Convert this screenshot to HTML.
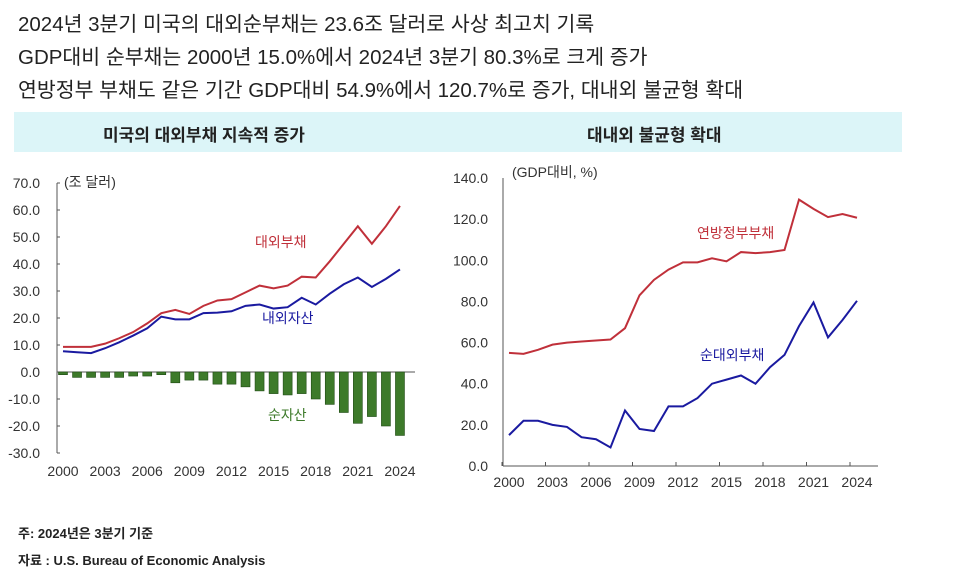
<!DOCTYPE html>
<html><head><meta charset="utf-8"><style>
body{margin:0;width:958px;height:582px;background:#fff;overflow:hidden;font-family:"Liberation Sans","Noto Sans CJK KR",sans-serif;position:relative}
.h{position:absolute;left:18px;font-size:20.5px;color:#222;white-space:nowrap;letter-spacing:0px}
.band{position:absolute;left:14px;top:112px;width:888px;height:40px;background:#dcf5f8}
.t{position:absolute;top:121px;font-size:17px;font-weight:bold;color:#222}
.f{position:absolute;left:18px;font-size:13px;font-weight:bold;color:#222}
svg{position:absolute;left:0;top:0}
</style></head><body>
<div class="h" style="top:7px">2024년 3분기 미국의 대외순부채는 23.6조 달러로 사상 최고치 기록</div>
<div class="h" style="top:40px">GDP대비 순부채는 2000년 15.0%에서 2024년 3분기 80.3%로 크게 증가</div>
<div class="h" style="top:73px">연방정부 부채도 같은 기간 GDP대비 54.9%에서 120.7%로 증가, 대내외 불균형 확대</div>
<div class="band"></div>
<div class="t" style="left:103px">미국의 대외부채 지속적 증가</div>
<div class="t" style="left:587px">대내외 불균형 확대</div>
<div class="f" style="top:523px">주: 2024년은 3분기 기준</div>
<div class="f" style="top:550px">자료 : U.S. Bureau of Economic Analysis</div>
<svg id="s" width="958" height="582"></svg>
<script>
const years=[2000,2001,2002,2003,2004,2005,2006,2007,2008,2009,2010,2011,2012,2013,2014,2015,2016,2017,2018,2019,2020,2021,2022,2023,2024];
const tickYears=[2000,2003,2006,2009,2012,2015,2018,2021,2024];
const liabilities=[9.3,9.3,9.3,10.5,12.5,14.8,18,21.8,23,21.5,24.5,26.5,27,29.5,32,31,32,35.3,35,41,47.5,54,47.5,54,61.5];
const assets=[7.7,7.3,7,8.8,11,13.5,16.2,20.5,19.5,19.5,21.8,22,22.5,24.5,25,23.5,24,27.5,25,29,32.5,35,31.5,34.5,38];
const netAssets=[-1,-2,-2,-2,-2,-1.5,-1.5,-1,-4,-3,-3,-4.5,-4.5,-5.5,-7,-8,-8.5,-8,-10,-12,-15,-19,-16.5,-20,-23.5];
const leftTicks=[70,60,50,40,30,20,10,0,-10,-20,-30];
const fedDebt=[55,54.5,56.5,59,60,60.5,61,61.5,67,83,90.5,95.5,99,99,101,99.5,104,103.5,104,105,129.5,125,121,122.5,120.7];
const netExtDebt=[15,22,22,20,19,14,13,9,27,18,17,29,29,33,40,42,44,40,48,54,68,79.5,62.5,71,80.3];
const rightTicks=[140,120,100,80,60,40,20,0];
const NS="http://www.w3.org/2000/svg",svg=document.getElementById('s');
function el(tag,a,txt){const e=document.createElementNS(NS,tag);for(const k in a)e.setAttribute(k,a[k]);if(txt!=null)e.textContent=txt;svg.appendChild(e);return e;}
const lx=y=>63+(y-2000)*14.04, ly=v=>372-v*2.7;
const ax=el('line',{x1:57,y1:ly(70),x2:57,y2:ly(-30),stroke:'#555'});

const zl=el('line',{x1:57,y1:ly(0),x2:415,y2:ly(0),stroke:'#555'});

leftTicks.forEach(v=>{const t=el('text',{x:40,y:ly(v)+5,'text-anchor':'end','font-size':14,fill:'#333'},v.toFixed(1));

el('line',{x1:57,y1:ly(v),x2:60,y2:ly(v),stroke:'#555'});});
tickYears.forEach(y=>{const t=el('text',{x:lx(y),y:476,'text-anchor':'middle','font-size':14,fill:'#333'},y);
});
years.forEach((y,i)=>{const v=netAssets[i];const b=el('rect',{x:lx(y)-4.5,y:ly(0),width:9,height:ly(v)-ly(0),fill:'#3d7a2a',stroke:'#1f4a14','stroke-width':0.6});
});
function line(xs,ys,vals,col,name){const p=el('polyline',{points:vals.map((v,i)=>xs(years[i])+','+ys(v)).join(' '),fill:'none',stroke:col,'stroke-width':2});
}
line(lx,ly,liabilities,'#c0303a','line-liabilities');
line(lx,ly,assets,'#1a1aa0','line-assets');
[['(조 달러)',64,187,'#333','left-unit-label'],['대외부채',255,247,'#c0303a','label-liabilities'],['내외자산',262,323,'#1a1aa0','label-assets'],['순자산',268,420,'#3d7a2a','label-net-assets']].forEach(a=>{const t=el('text',{x:a[1],y:a[2],'font-size':14,fill:a[3]},a[0]);});
const rx=y=>509+(y-2000)*14.5, ry=v=>466-v*2.057;
const ay=el('line',{x1:503,y1:ry(140),x2:503,y2:ry(0),stroke:'#555'});

const axx=el('line',{x1:503,y1:ry(0),x2:878,y2:ry(0),stroke:'#555'});

rightTicks.forEach(v=>{const t=el('text',{x:488,y:ry(v)+5,'text-anchor':'end','font-size':14,fill:'#333'},v.toFixed(1));
});
tickYears.forEach(y=>{const t=el('text',{x:rx(y),y:487,'text-anchor':'middle','font-size':14,fill:'#333'},y);

el('line',{x1:rx(y)-7,y1:ry(0),x2:rx(y)-7,y2:ry(0)-4,stroke:'#555'});});
line(rx,ry,fedDebt,'#c0303a','line-federal-debt');
line(rx,ry,netExtDebt,'#1a1aa0','line-net-external-debt');
[['(GDP대비, %)',512,177,'#333','right-unit-label'],['연방정부부채',697,238,'#c0303a','label-federal-debt'],['순대외부채',700,360,'#1a1aa0','label-net-external-debt']].forEach(a=>{const t=el('text',{x:a[1],y:a[2],'font-size':14,fill:a[3]},a[0]);});
</script>
</body></html>
